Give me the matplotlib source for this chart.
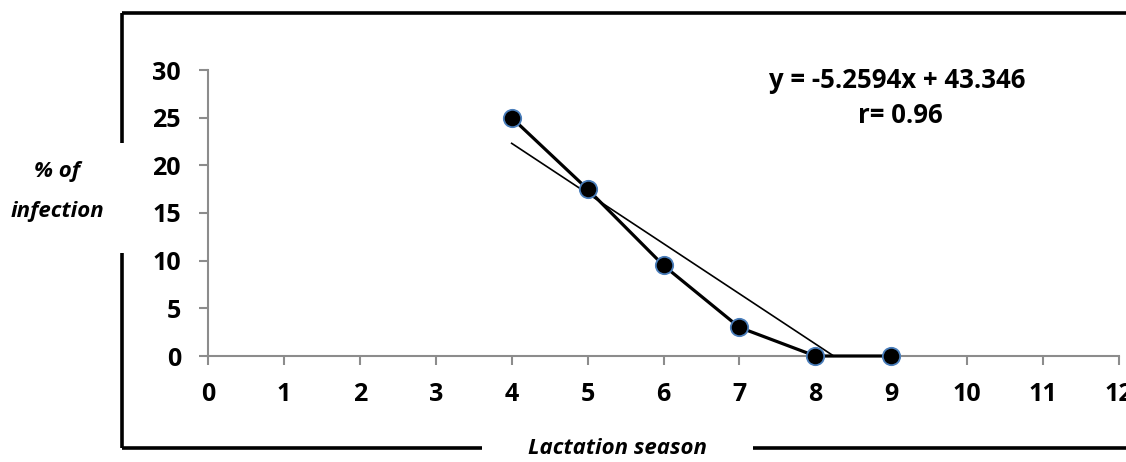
import matplotlib
matplotlib.use('Agg')
import numpy as np
from matplotlib import pyplot as plt
from matplotlib.lines import Line2D

# Data
season = [4, 5, 6, 7, 8, 9]
infection = [25, 17.5, 9.5, 3, 0, 0]
x_ticks = list(range(0, 13))
y_ticks = [0, 5, 10, 15, 20, 25, 30]

# trend line from the printed equation
slope = -5.2594
intercept = 43.346
r_value = 0.96

plt.rcParams['font.family'] = ['Open Sans', 'DejaVu Sans']

W, H = 1126, 462
fig = plt.figure(figsize=(W / 100, H / 100), dpi=100)

def fx(px):
    return px / W

def fy(py):
    return 1 - py / H

ax = fig.add_axes([fx(208), fy(356), fx(1119) - fx(208), fy(70) - fy(356)])

# trend line ends where it hits zero
x_end = -intercept / slope
tx = np.array([season[0], x_end])
ax.plot(tx, slope * tx + intercept, color='black', lw=1.2, zorder=2, clip_on=False)

ax.plot(season, infection, color='black', lw=2.3, marker='o', markersize=12.5,
        markerfacecolor='black', markeredgecolor='#4a7ebb', markeredgewidth=1.3,
        zorder=3, clip_on=False)

ax.set_xlim(0, 12)
ax.set_ylim(0, 30)
ax.set_xticks(x_ticks)
ax.set_yticks(y_ticks)
for s in ['top', 'right']:
    ax.spines[s].set_visible(False)
for s in ['left', 'bottom']:
    ax.spines[s].set_color('#8c8c8c')
    ax.spines[s].set_linewidth(1.5)
ax.tick_params(axis='both', colors='#8c8c8c', width=1.5, length=6.5, direction='out')
ax.tick_params(axis='x', pad=12)
ax.tick_params(axis='y', pad=13)
for lab in ax.get_xticklabels() + ax.get_yticklabels():
    lab.set_color('black')
    lab.set_fontweight('bold')
    lab.set_fontsize(18)

ax.text(897 / W, fy(80), 'y = -5.2594x + 43.346', transform=fig.transFigure,
        ha='center', va='center', fontsize=18.5, fontweight='bold')
ax.text(900 / W, fy(115), f'r= {r_value}', transform=fig.transFigure,
        ha='center', va='center', fontsize=18.5, fontweight='bold')

# outer frame with gaps for the axis titles
frame = [
    ([122, 122], [13, 143]),
    ([122, 122], [253, 448]),
    ([122, 1126], [13, 13]),
    ([122, 482], [448, 448]),
    ([753, 1126], [448, 448]),
]
for xs, ys in frame:
    fig.add_artist(Line2D([fx(v) for v in xs], [fy(v) for v in ys],
                          color='black', lw=2.6, solid_capstyle='butt'))

fig.text(fx(57), fy(172), '% of', ha='center', va='center',
         fontsize=16, fontweight='bold', style='italic')
fig.text(fx(57), fy(211), 'infection', ha='center', va='center',
         fontsize=16, fontweight='bold', style='italic')
fig.text(fx(617), fy(449), 'Lactation season', ha='center', va='center',
         fontsize=16, fontweight='bold', style='italic')

fig.savefig('out.png', dpi=100)
